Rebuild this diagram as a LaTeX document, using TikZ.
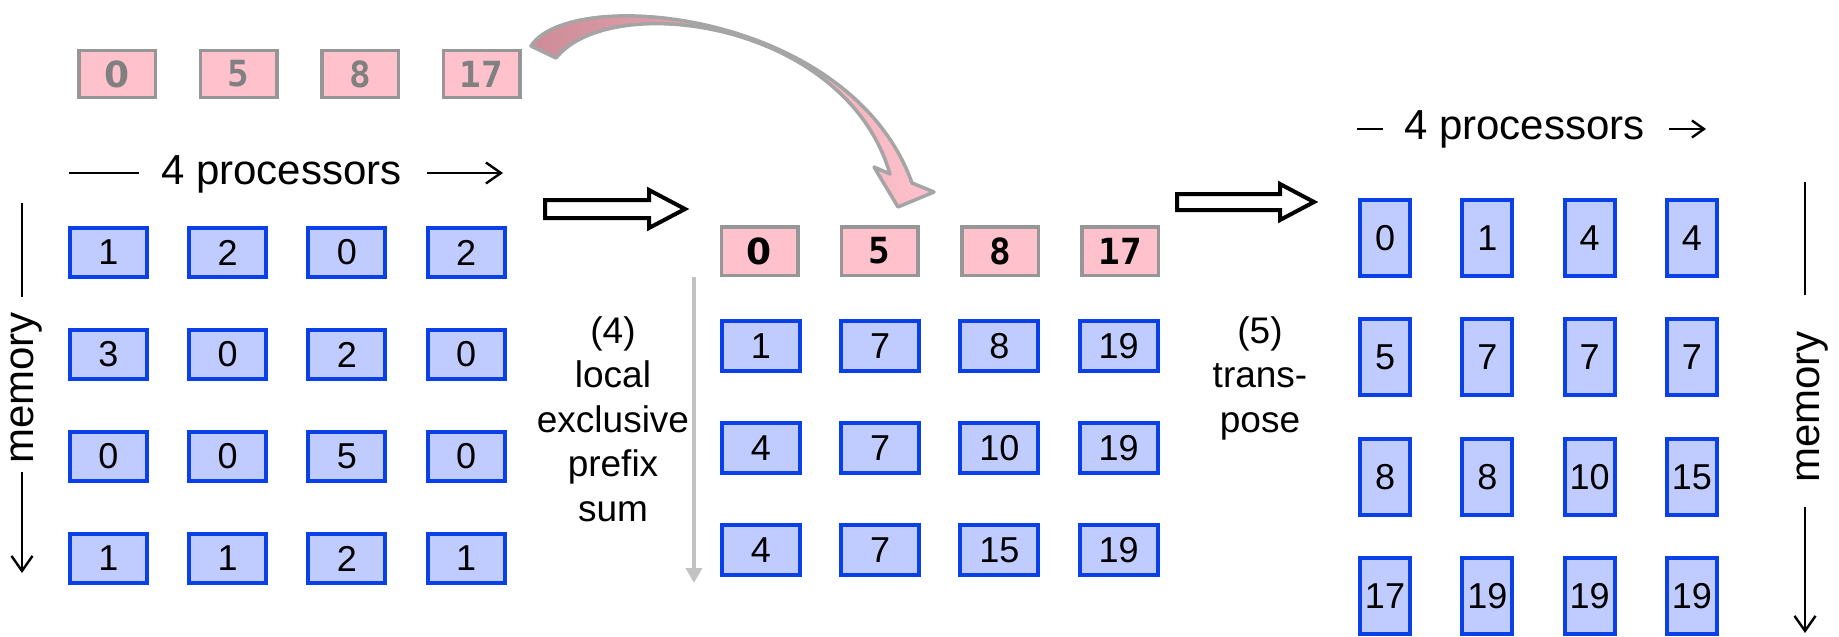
\documentclass[tikz,border=0pt]{standalone}
\usepackage{fontspec}
\setmainfont{Liberation Sans}
\newfontfamily\monofont{DejaVu Sans Mono}
\newfontfamily\zerofont{DejaVu Sans}
\usetikzlibrary{arrows.meta}
\definecolor{boxblue}{RGB}{192,204,255}
\definecolor{edgeblue}{RGB}{10,64,232}
\definecolor{boxpink}{RGB}{255,194,204}
\definecolor{edgegray}{RGB}{150,150,150}
\definecolor{txtgray}{RGB}{128,128,128}
\definecolor{arcpinkdark}{RGB}{205,140,152}
\definecolor{arcgray}{RGB}{165,165,165}
\definecolor{guidegray}{RGB}{195,195,195}
\begin{document}
\begin{tikzpicture}[x=1pt,y=-1pt,
  cell/.style={draw=edgeblue, fill=boxblue, line width=4pt, inner sep=0pt,
    minimum width=77pt, minimum height=49pt, font=\fontsize{36}{36}\selectfont},
  midcell/.style={cell, minimum width=78pt, minimum height=50pt},
  tallcell/.style={cell, minimum width=50pt, minimum height=76pt},
  sumcell/.style={draw=edgegray, fill=boxpink, line width=3.5pt, inner sep=0pt,
    minimum width=76.5pt, minimum height=47pt, font=\monofont\bfseries\fontsize{36}{36}\selectfont},
  lbl/.style={font=\fontsize{42}{42}\selectfont, inner sep=0pt},
  stepnote/.style={font=\fontsize{37}{44.5}\selectfont, align=center, inner sep=0pt, anchor=north},
  thinline/.style={line width=2.4pt, black},
  barb/.style={-{Straight Barb[length=15pt,width=21pt]}},
  smallbarb/.style={-{Straight Barb[length=12pt,width=17pt]}},
  hollow/.style={draw=black, fill=white, line width=4pt, line join=miter},
]
\useasboundingbox (0,0) rectangle (1839,637);

% ---------- top pink row (gray text)
\foreach \v [count=\i from 0] in {{\zerofont 0},5,8,17}{
  \node[sumcell, text=txtgray] (T\i) at ({117+121.5*\i},74) {\v};
}

% ---------- left labels
\draw[thinline] (69,173) -- (139,173);
\node[lbl, anchor=base west] (procL) at (161,184) {4 processors};
\coordinate (procLa) at (427,173);
\coordinate (procLb) at (503,173);
\draw[thinline, barb] (procLa) -- (procLb);

\node[lbl, rotate=90, anchor=base] (memL) at (33,388) {memory};
\draw[thinline] (22,203) -- (22,297);
\coordinate (memLa) at (22,472);
\coordinate (memLb) at (22,573);
\draw[thinline, barb] (memLa) -- (memLb);

% ---------- left grid
\foreach \v [count=\i from 0] in {1,2,0,2,3,0,2,0,0,0,5,0,1,1,2,1}{
  \pgfmathtruncatemacro\r{int(\i/4)}
  \pgfmathtruncatemacro\c{mod(\i,4)}
  \node[cell] (L\r\c) at ({108.5+119.2*\c},{252.5+102*\r}) {\v};
}

% ---------- curved arrow
\path[draw=arcgray, line width=3.5pt, line join=round,
      left color=arcpinkdark, right color=boxpink]
  (531,46) .. controls (570,-15) and (850,10) .. (912,183)
  -- (934,192) -- (898,207) -- (874,167) -- (890,174)
  .. controls (845,20) and (610,-10) .. (556,58) -- cycle;

% ---------- hollow arrow 1
\draw[hollow] (545,200) -- (649,200) -- (649,190) -- (685,209) -- (649,228)
  -- (649,218) -- (545,218) -- cycle;

% ---------- middle section
\foreach \v [count=\i from 0] in {{\zerofont 0},5,8,17}{
  \node[sumcell, minimum height=48.5pt] (M\i) at ({759.5+120.3*\i},251) {\v};
}
\foreach \v [count=\i from 0] in {1,7,8,19,4,7,10,19,4,7,15,19}{
  \pgfmathtruncatemacro\r{int(\i/4)}
  \pgfmathtruncatemacro\c{mod(\i,4)}
  \node[midcell] (P\r\c) at ({761+119.2*\c},{346+102*\r}) {\v};
}
\coordinate (gA) at (694,277);
\coordinate (gB) at (694,583);
\draw[guidegray, line width=4.3pt, -{Triangle[length=15pt,width=16pt]}] (gA) -- (gB);

\node[stepnote] (lab4) at (613,316) {(4)\\local\\exclusive\\prefix\\sum};

% ---------- hollow arrow 2
\draw[hollow] (1177,194) -- (1280,194) -- (1280,184) -- (1314,202) -- (1280,220)
  -- (1280,210) -- (1177,210) -- cycle;

\node[stepnote] (lab5) at (1260,316) {(5)\\trans-\\pose};

% ---------- right labels
\draw[thinline] (1357,129) -- (1383,129);
\node[lbl, anchor=base west] (procR) at (1404,139) {4 processors};
\coordinate (procRa) at (1669,129);
\coordinate (procRb) at (1706,129);
\draw[thinline, smallbarb] (procRa) -- (procRb);

\node[lbl, rotate=90, anchor=base] (memR) at (1819,407) {memory};
\draw[thinline] (1805,182) -- (1805,295);
\coordinate (memRa) at (1805,507);
\coordinate (memRb) at (1805,633);
\draw[thinline, barb] (memRa) -- (memRb);

% ---------- right grid
\foreach \v [count=\i from 0] in {0,1,4,4,5,7,7,7,8,8,10,15,17,19,19,19}{
  \pgfmathtruncatemacro\r{int(\i/4)}
  \pgfmathtruncatemacro\c{mod(\i,4)}
  \node[tallcell] (R\r\c) at ({1385+102.3*\c},{238+119.4*\r}) {\v};
}
\end{tikzpicture}
\end{document}
